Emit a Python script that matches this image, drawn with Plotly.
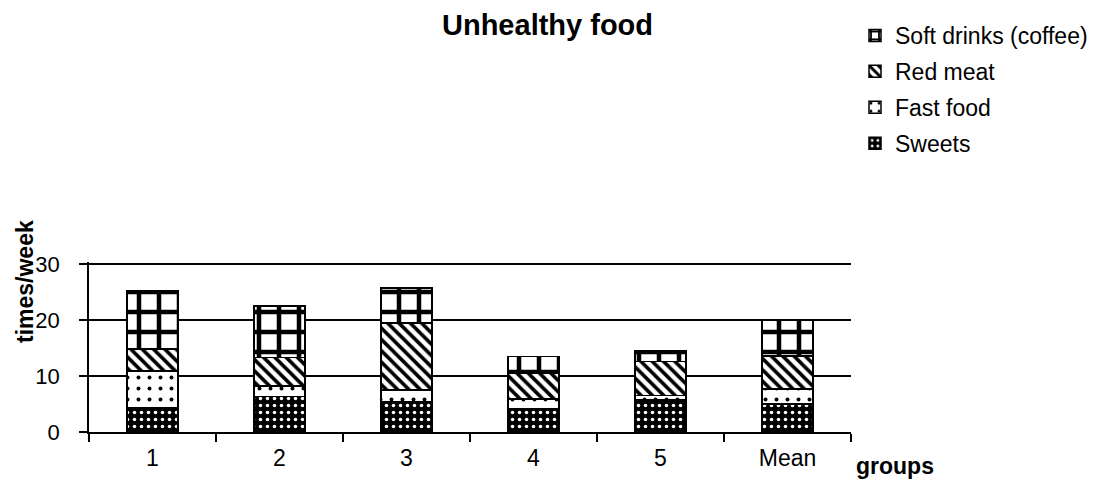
import plotly.graph_objects as go

groups = ["1", "2", "3", "4", "5", "Mean"]
sweets = [4.4, 6.3, 5.45, 4.1, 5.75, 5.0]
fast_food = [6.5, 1.95, 2.05, 1.8, 0.75, 2.65]
red_meat = [3.9, 5.05, 12.0, 4.6, 6.1, 5.95]
soft_drinks = [10.5, 9.2, 6.2, 3.0, 1.9, 6.3]

series = [
    ("Sweets", sweets, 4, dict(shape=".", bgcolor="black", fgcolor="white", size=7, solidity=0.2)),
    ("Fast food", fast_food, 3, dict(shape=".", bgcolor="white", fgcolor="black", size=11, solidity=0.1)),
    ("Red meat", red_meat, 2, dict(shape="\\", bgcolor="white", fgcolor="black", size=8, solidity=0.45)),
    ("Soft drinks (coffee)", soft_drinks, 1, dict(shape="+", bgcolor="white", fgcolor="black", size=20, solidity=0.4)),
]

# page has an 8px body margin; figure is sized/positioned to compensate
OFF = 8
W, H = 1101 - OFF, 479 - OFF
L, R, T, B = 89 - OFF, 1101 - 851, 264 - OFF - 2, 479 - 432
pw, ph = W - L - R, H - T - B

def px(x, y):
    # reference page pixel -> paper coordinates
    return (x - OFF - L) / pw, (H - B - (y - OFF)) / ph

fig = go.Figure()
for name, vals, rank, pat in series:
    pat = dict(pat, fgopacity=1, fillmode="replace")
    fig.add_trace(go.Bar(
        x=groups, y=vals, name=name, legendgroup=name, legendrank=rank,
        marker=dict(color="white", pattern=pat, line=dict(color="black", width=1.5)),
        width=0.4,
    ))

tx, ty = px(547, 25)
yx, yy = px(25, 282)
gx, gy = px(895, 466)
lx, ly = px(855, 14)

fig.update_layout(
    barmode="stack",
    width=W, height=H,
    paper_bgcolor="white", plot_bgcolor="white",
    margin=dict(l=L, r=R, t=T, b=B, autoexpand=False),
    font=dict(family="Liberation Sans, Arial, sans-serif", size=22, color="black"),
    showlegend=True,
    legend=dict(
        traceorder="grouped", tracegroupgap=3,
        x=lx, xanchor="left", y=ly, yanchor="top",
        font=dict(size=23), itemwidth=30,
    ),
    annotations=[
        dict(text="<b>Unhealthy food</b>", x=tx, y=ty, xref="paper", yref="paper",
             xanchor="center", yanchor="middle", showarrow=False, font=dict(size=29)),
        dict(text="<b>times/week</b>", x=yx, y=yy, xref="paper", yref="paper",
             xanchor="center", yanchor="middle",
             textangle=-90, showarrow=False, font=dict(size=23)),
        dict(text="<b>groups</b>", x=gx, y=gy, xref="paper", yref="paper",
             xanchor="center", yanchor="middle", showarrow=False, font=dict(size=23)),
    ],
)

fig.update_xaxes(
    type="category", showline=True, linecolor="black", linewidth=1.5,
    ticks="outside", tickson="boundaries", ticklen=8, tickcolor="black", tickwidth=1.5,
    showgrid=False, tickfont=dict(size=23), automargin=False, ticklabelstandoff=5,
)
fig.update_yaxes(
    range=[0, 30.36], tickvals=[0, 10, 20, 30], showline=True, linecolor="black", linewidth=1.5,
    ticks="outside", ticklen=8, tickcolor="black", tickwidth=1.5,
    showgrid=True, gridcolor="black", gridwidth=1.5, zeroline=False,
    tickfont=dict(size=22), automargin=False, ticklabelstandoff=15,
)

fig.write_html("out.html")
